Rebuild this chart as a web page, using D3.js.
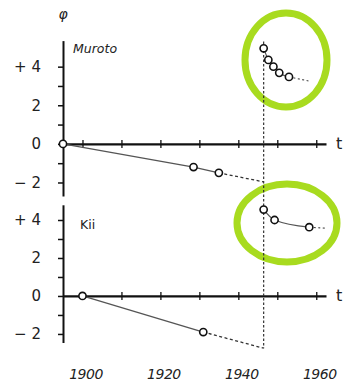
<!DOCTYPE html>
<html>
<head>
<meta charset="utf-8">
<script src="https://cdn.jsdelivr.net/npm/d3@7"></script>
<style>
  html, body { margin: 0; padding: 0; background: #fff; }
  svg { display: block; }
  text { font-family: "DejaVu Sans", sans-serif; fill: #222; }
</style>
</head>
<body>
<svg id="chart" width="348" height="386"></svg>
<script>
// Vertical crustal movement φ at two stations, before and after 1946
const quakeYear = 1946.5;

// Muroto: slow subsidence before the quake, sudden uplift and recovery after
const murotoPreYears  = [1895, 1928.5, 1935];
const murotoPreValues = [0, -1.2, -1.5];
const murotoPreTail   = [1946.5, -1.97];
const murotoPostYears  = [1946.5, 1947.7, 1949, 1950.5, 1953];
const murotoPostValues = [4.95, 4.35, 4.0, 3.68, 3.47];
const murotoPostTail   = [1958, 3.26];

// Kii
const kiiPreYears  = [1900, 1931];
const kiiPreValues = [0, -1.9];
const kiiPreTail   = [1946.5, -2.75];
const kiiPostYears  = [1946.5, 1949.3, 1958.2];
const kiiPostValues = [4.55, 4.0, 3.62];
const kiiPostTail   = [1962.3, 3.57];

// Axis ticks and labels
const yTickValues = [-2, -1, 0, 1, 2, 3, 4];
const yLabelText = { 4: "+ 4", 2: "2", 0: "0", "-2": "\u2212 2" };
const xTickValues = [1900, 1910, 1920, 1930, 1940, 1950, 1960];
const yearLabels = [1900, 1920, 1940, 1960];

const svg = d3.select("#chart");

const x = d3.scaleLinear().domain([1895, 1962.5]).range([63, 326]);

const panels = [
  { name: "Muroto", italic: true, y: d3.scaleLinear().domain([-2.7, 5.35]).range([196, 40.6]),
    pre: [murotoPreYears, murotoPreValues, murotoPreTail],
    post: [murotoPostYears, murotoPostValues, murotoPostTail],
    nameX: 73, nameY: 53 },
  { name: "Kii", italic: false, y: d3.scaleLinear().domain([-2.45, 4.8]).range([342.5, 204.8]),
    pre: [kiiPreYears, kiiPreValues, kiiPreTail],
    post: [kiiPostYears, kiiPostValues, kiiPostTail],
    nameX: 80, nameY: 229 }
];

const line = d3.line().x(d => x(d[0])).y(d => d[1]);

// Highlight ellipses behind the post-quake points
const highlight = svg.append("g");
highlight.append("ellipse").attr("cx", 286).attr("cy", 60).attr("rx", 41).attr("ry", 47);
highlight.append("ellipse").attr("cx", 287).attr("cy", 223).attr("rx", 50).attr("ry", 39);
highlight.selectAll("ellipse")
  .attr("fill", "none").attr("stroke", "#a8db1f").attr("stroke-width", 7);

panels.forEach(p => {
  const g = svg.append("g");
  const y = p.y;

  // y axis with left ticks, labels only on even values
  const yAxis = d3.axisLeft(y)
    .tickValues(yTickValues)
    .tickSizeInner(5).tickSizeOuter(0).tickPadding(17)
    .tickFormat(d => yLabelText[d] || "");
  const ya = g.append("g").attr("transform", `translate(${x.range()[0]},0)`).call(yAxis);
  ya.select(".domain").attr("stroke", "#111").attr("stroke-width", 2);
  ya.selectAll(".tick line").attr("stroke", "#111").attr("stroke-width", 1.5);
  ya.selectAll(".tick text").attr("font-size", 15).attr("fill", "#222");

  // time axis through zero, ticks crossing the line
  const xAxis = d3.axisBottom(x).tickValues(xTickValues).tickSizeOuter(0).tickFormat("");
  const xa = g.append("g").attr("transform", `translate(0,${y(0)})`).call(xAxis);
  xa.select(".domain").attr("stroke", "#111").attr("stroke-width", 2.2);
  xa.selectAll(".tick line").attr("y1", -4).attr("y2", 4).attr("stroke", "#111").attr("stroke-width", 1.3);

  g.append("text").attr("x", 336).attr("y", y(0) + 5).attr("font-size", 16).text("t");
  g.append("text").attr("x", p.nameX).attr("y", p.nameY).attr("font-size", 12.5)
    .attr("font-style", p.italic ? "italic" : "normal").text(p.name);

  // before the quake: solid through measurements, dashed to the quake
  const [preYears, preValues, preTail] = p.pre;
  const prePts = preYears.map((t, i) => [t, y(preValues[i])]);
  g.append("path").attr("d", line(prePts))
    .attr("fill", "none").attr("stroke", "#555").attr("stroke-width", 1.3);
  g.append("path").attr("d", line([prePts[prePts.length - 1], [preTail[0], y(preTail[1])]]))
    .attr("fill", "none").attr("stroke", "#333").attr("stroke-width", 1.3)
    .attr("stroke-dasharray", "3,2.5");

  // after the quake
  const [postYears, postValues, postTail] = p.post;
  const postPts = postYears.map((t, i) => [t, y(postValues[i])]);
  g.append("path").attr("d", line.curve(d3.curveMonotoneX)(postPts))
    .attr("fill", "none").attr("stroke", "#555").attr("stroke-width", 1.2);
  line.curve(d3.curveLinear);
  g.append("path").attr("d", line([postPts[postPts.length - 1], [postTail[0], y(postTail[1])]]))
    .attr("fill", "none").attr("stroke", "#444").attr("stroke-width", 1.1)
    .attr("stroke-dasharray", "2,2.5");

  p.prePts = prePts; p.postPts = postPts;
});

// dashed vertical line at the 1946 earthquake across both panels
svg.append("line")
  .attr("x1", x(quakeYear)).attr("x2", x(quakeYear))
  .attr("y1", panels[0].y(5.3)).attr("y2", panels[1].y(kiiPreTail[1]))
  .attr("stroke", "#333").attr("stroke-width", 1.2).attr("stroke-dasharray", "2.5,2");

// measurement circles on top
panels.forEach(p => {
  svg.append("g").selectAll("circle")
    .data(p.prePts.concat(p.postPts))
    .join("circle")
    .attr("cx", d => x(d[0])).attr("cy", d => d[1]).attr("r", 3.6)
    .attr("fill", "#fff").attr("stroke", "#111").attr("stroke-width", 1.6);
});

// φ label
svg.append("text").attr("x", 63).attr("y", 19).attr("text-anchor", "middle")
  .attr("font-size", 14).attr("font-style", "italic").text("φ");

// year labels under the lower panel
const yearAxis = d3.axisBottom(x).tickValues(yearLabels).tickSize(0).tickPadding(0)
  .tickFormat(d3.format("d"));
const yl = svg.append("g").attr("transform", "translate(3,369)").call(yearAxis);
yl.select(".domain").remove();
yl.selectAll(".tick text").attr("font-size", 14).attr("font-style", "italic")
  .attr("letter-spacing", "-0.5").attr("fill", "#222").attr("font-family", "DejaVu Sans, sans-serif");
</script>
</body>
</html>
